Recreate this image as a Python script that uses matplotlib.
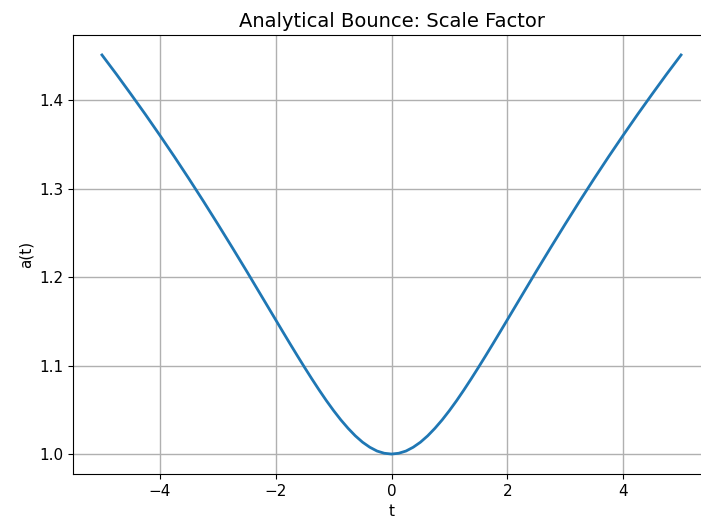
import matplotlib
matplotlib.use("Agg")
import matplotlib.pyplot as plt

# time samples and scale factor
t = [-5.0, -4.75, -4.5, -4.25, -4.0, -3.75, -3.5, -3.25, -3.0, -2.75, -2.5,
     -2.25, -2.0, -1.875, -1.75, -1.625, -1.5, -1.375, -1.25, -1.125, -1.0,
     -0.875, -0.75, -0.625, -0.5, -0.375, -0.25, -0.125, 0.0,
     0.125, 0.25, 0.375, 0.5, 0.625, 0.75, 0.875, 1.0,
     1.125, 1.25, 1.375, 1.5, 1.625, 1.75, 1.875, 2.0, 2.25, 2.5,
     2.75, 3.0, 3.25, 3.5, 3.75, 4.0, 4.25, 4.5, 4.75, 5.0]
a = [1.4510, 1.4292, 1.4067, 1.3838, 1.3602, 1.3361, 1.3113, 1.2859, 1.2599, 1.2334, 1.2065,
     1.1791, 1.1517, 1.1380, 1.1244, 1.1110, 1.0978, 1.0849, 1.0724, 1.0604, 1.0491,
     1.0386, 1.0291, 1.0206, 1.0134, 1.0077, 1.0034, 1.0009, 1.0000,
     1.0009, 1.0034, 1.0077, 1.0134, 1.0206, 1.0291, 1.0386, 1.0491,
     1.0604, 1.0724, 1.0849, 1.0978, 1.1110, 1.1244, 1.1380, 1.1517, 1.1791, 1.2065,
     1.2334, 1.2599, 1.2859, 1.3113, 1.3361, 1.3602, 1.3838, 1.4067, 1.4292, 1.4510]

fig = plt.figure(figsize=(7.01, 5.21), dpi=100)
ax = fig.add_axes([73 / 701, 47 / 521, 637 / 701, 439 / 521])

ax.plot(t, a, color="#1f77b4", linewidth=2)
ax.set_title("Analytical Bounce: Scale Factor", fontsize=14)
ax.set_xlabel("t", fontsize=11)
ax.set_ylabel("a(t)", fontsize=11)
ax.tick_params(labelsize=11)
ax.grid(True, color="#b0b0b0", linewidth=1)
ax.set_xticks([-4, -2, 0, 2, 4])
ax.set_yticks([1.0, 1.1, 1.2, 1.3, 1.4])

fig.savefig("out.png", dpi=100)
